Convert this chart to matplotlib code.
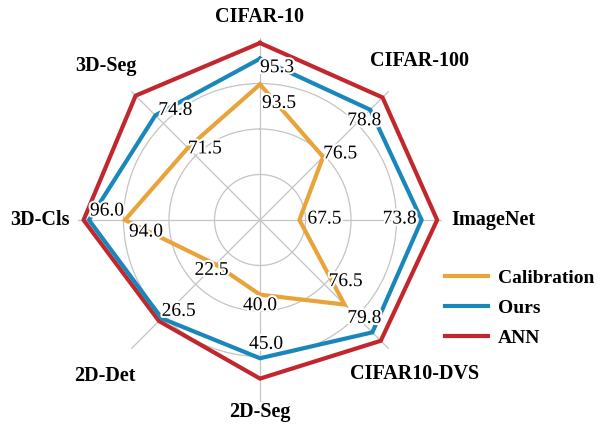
import numpy as np
import matplotlib
matplotlib.use("Agg")
import matplotlib.pyplot as plt
import matplotlib.patheffects as pe

plt.rcParams["font.family"] = ["Liberation Serif", "DejaVu Serif"]

# Benchmarks, clockwise from the top
tasks = ["CIFAR-10", "CIFAR-100", "ImageNet", "CIFAR10-DVS",
         "2D-Seg", "2D-Det", "3D-Cls", "3D-Seg"]

calibration = [93.5, 76.5, 67.5, 76.5, 40.0, 22.5, 94.0, 71.5]
ours = [95.3, 78.8, 73.8, 79.8, 45.0, 26.5, 96.0, 74.8]
ann = [96.4, 79.4, 74.6, 80.8, 46.6, 26.7, 96.3, 76.8]

# per-axis scale (value at centre, value at outer edge)
axis_lo = [84.0, 73.42, 65.47, 66.46, 34.13, 19.21, 86.5, 64.18]
axis_hi = [96.75, 79.70, 74.85, 81.74, 48.44, 28.75, 96.61, 77.24]

# pixel offsets of the value labels from their points
calib_off = [(19, -19), (17, 3), (25, 1), (1, 23), (0, -11), (-4, -6), (21, -12), (17, -1)]
ours_off = [(17, -9), (-6, -11), (-22, 1), (-8, 14), (6, 14), (17, 7), (18, 9), (20, 5)]


def scale(vals):
    return [(v - lo) / (hi - lo) for v, lo, hi in zip(vals, axis_lo, axis_hi)]


angles = np.linspace(0, 2 * np.pi, len(tasks), endpoint=False)
closed = np.append(angles, angles[0])

fig = plt.figure(figsize=(6.05, 4.32), dpi=100)
ax = fig.add_axes([78 / 605, 30 / 432, 364 / 605, 364 / 432], projection="polar")
ax.set_theta_zero_location("N")
ax.set_theta_direction(-1)
ax.set_ylim(0, 1)
ax.set_xticks(angles)
ax.set_xticklabels([])
ax.set_yticks([0.25, 0.5, 0.75])
ax.set_yticklabels([])
ax.spines["polar"].set_visible(False)
ax.grid(color="#c4c4c4", linewidth=0.9)

series = [("ANN", ann, "#c1272d"), ("Ours", ours, "#1a87bb"),
          ("Calibration", calibration, "#e9a33b")]
handles = {}
for name, vals, col in series:
    r = scale(vals)
    (ln,) = ax.plot(closed, r + r[:1], color=col, linewidth=3.0,
                    solid_joinstyle="miter", label=name, zorder=3)
    handles[name] = ln

stroke = [pe.withStroke(linewidth=3, foreground="white")]
for vals, offs in [(calibration, calib_off), (ours, ours_off)]:
    r = scale(vals)
    for a, rv, v, off in zip(angles, r, vals, offs):
        ax.annotate(f"{v:.1f}", (a, rv), xytext=off, textcoords="offset pixels",
                    ha="center", va="center", fontsize=14, zorder=5,
                    path_effects=stroke)

# category names around the outside
name_pos = [(1.115, "center"), (1.236, "center"), (1.05, "left"), (1.2, "center"),
            (1.055, "center"), (1.209, "center"), (1.044, "right"), (1.2, "center")]
for a, t, (rr, ha) in zip(angles, tasks, name_pos):
    ax.text(a, rr, t, ha=ha, va="center", fontsize=14.5, fontweight="bold")

fig.legend([handles["Calibration"], handles["Ours"], handles["ANN"]],
           ["Calibration", "Ours", "ANN"], loc="center left",
           bbox_to_anchor=(435 / 605, 1 - 308 / 432), frameon=False,
           borderpad=0, handlelength=2.2, handletextpad=0.55, labelspacing=0.65,
           prop={"size": 14, "weight": "bold"})

fig.savefig("out.png", dpi=100)
